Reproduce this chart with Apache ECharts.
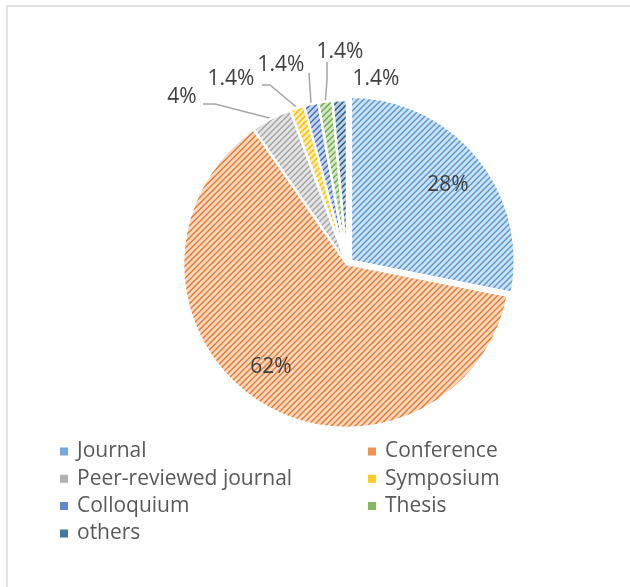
<!DOCTYPE html>
<html><head><meta charset="utf-8">
<script src="https://cdn.jsdelivr.net/npm/echarts@6/dist/echarts.min.js"></script>
<style>html,body{margin:0;padding:0;background:#fff}#c{width:630px;height:587px}</style>
</head><body><div id="c"></div>
<script>
// ---- data ----
const categories = ['Journal', 'Conference', 'Peer-reviewed journal', 'Symposium', 'Colloquium', 'Thesis', 'others'];
const shares = [28, 62, 4, 1.4, 1.4, 1.4, 1.4];
const leftLegend = ['Journal', 'Peer-reviewed journal', 'Colloquium', 'others'];
const rightLegend = ['Conference', 'Symposium', 'Thesis'];
const explodedCategory = 'Journal';

// ---- styles / layout ----
const baseColors = ['#5B9BD5', '#ED7D31', '#A5A5A5', '#FFC000', '#4472C4', '#70AD47', '#255E91'];
const FONT = '"Open Sans", Lato, sans-serif';
const CX = 347, CY = 264, R = 164, EXPLODE = 5;
const labelSpots = {
  'Journal': { x: 448, y: 185 },
  'Conference': { x: 271, y: 367 },
  'Peer-reviewed journal': { x: 182, y: 97, line: [[215, 104], [203, 104]] },
  'Symposium': { x: 231, y: 79, line: [[270, 85], [262, 85]] },
  'Colloquium': { x: 281, y: 65, line: [[310, 88], [309, 73]] },
  'Thesis': { x: 340, y: 52, line: [[327, 80], [327, 62]] },
  'others': { x: 376, y: 79 }
};

function hexRgb(h) { return [1, 3, 5].map(i => parseInt(h.substr(i, 2), 16)); }
function mixWhite(hex, t) {
  const [r, g, b] = hexRgb(hex);
  return `rgb(${Math.round(r + (255 - r) * t)},${Math.round(g + (255 - g) * t)},${Math.round(b + (255 - b) * t)})`;
}
function hatch(hex) {
  const c = document.createElement('canvas');
  const P = 6;
  c.width = c.height = P;
  const g = c.getContext('2d');
  g.fillStyle = mixWhite(hex, 0.7); g.fillRect(0, 0, P, P);
  for (let y = 0; y < P; y++) for (let x = 0; x < P; x++) {
    const k = (x + y) % P;
    if (k === 0) { g.fillStyle = hex; g.fillRect(x, y, 1, 1); }
    else if (k === 1) { g.fillStyle = mixWhite(hex, 0.2); g.fillRect(x, y, 1, 1); }
    else if (k === P - 1) { g.fillStyle = mixWhite(hex, 0.45); g.fillRect(x, y, 1, 1); }
  }
  return { image: c, repeat: 'repeat' };
}

const total = shares.reduce((a, b) => a + b, 0);
function midAngle(i) {
  let cum = 0; for (let k = 0; k < i; k++) cum += shares[k];
  return (cum + shares[i] / 2) / total * 2 * Math.PI;
}
function anchorOf(i) {
  const a = midAngle(i);
  return [CX + R * Math.sin(a), CY - R * Math.cos(a)];
}
const exIdx = categories.indexOf(explodedCategory);
const exA = midAngle(exIdx);
const exCenter = [CX + EXPLODE * Math.sin(exA), CY - EXPLODE * Math.cos(exA)];

const TRANSPARENT = 'rgba(0,0,0,0)';
// exploded slice series: the slice itself plus an invisible remainder
const explodedData = [
  { name: explodedCategory, value: shares[exIdx], itemStyle: { color: hatch(baseColors[exIdx]) } },
  { name: '__rest', value: total - shares[exIdx], itemStyle: { color: TRANSPARENT, borderColor: TRANSPARENT }, label: { show: false } }
];
const mainData = categories.map((name, i) => ({
  name, value: shares[i],
  itemStyle: i === exIdx ? { color: TRANSPARENT, borderColor: TRANSPARENT } : { color: hatch(baseColors[i]) },
  labelLine: { show: !!labelSpots[name].line }
}));

const legendItems = names => names.map(n => ({
  name: n, itemStyle: { color: mixWhite(baseColors[categories.indexOf(n)], 0.15) }
}));

const chart = echarts.init(document.getElementById('c'), null, { renderer: 'canvas' });
const legendBase = {
  orient: 'vertical', top: 436, itemWidth: 10, itemHeight: 10, itemGap: 6.3, icon: 'rect',
  selectedMode: false,
  textStyle: { fontFamily: FONT, fontSize: 21, color: '#595959', lineHeight: 20, padding: [0, 0, 0, 3] }
};
chart.setOption({
  animation: false,
  backgroundColor: '#ffffff',
  graphic: [{
    type: 'polyline', silent: true,
    shape: { points: [[7, 600], [7, 6], [640, 6]] },
    style: { stroke: '#D9D9D9', lineWidth: 1.5, fill: null }
  }],
  legend: [
    Object.assign({}, legendBase, { data: legendItems(leftLegend), left: 53 }),
    Object.assign({}, legendBase, { data: legendItems(rightLegend), left: 361 })
  ],
  series: [{
    type: 'pie',
    center: exCenter,
    radius: R,
    startAngle: 90,
    clockwise: true,
    silent: true,
    itemStyle: { borderColor: '#ffffff', borderWidth: 2.5 },
    label: { show: false },
    labelLine: { show: false },
    emphasis: { disabled: true },
    data: explodedData
  }, {
    type: 'pie',
    center: [CX, CY],
    radius: R,
    startAngle: 90,
    clockwise: true,
    silent: true,
    avoidLabelOverlap: false,
    itemStyle: { borderColor: '#ffffff', borderWidth: 2.5 },
    label: {
      show: true, position: 'outside',
      formatter: p => p.value + '%',
      fontFamily: FONT, fontSize: 21, color: '#404040'
    },
    labelLine: { show: true, length: 10, length2: 10, lineStyle: { color: '#A6A6A6', width: 1.5 } },
    labelLayout: function (p) {
      const name = categories[p.dataIndex];
      const s = labelSpots[name];
      const out = { x: s.x, y: s.y, align: 'center', verticalAlign: 'middle', hideOverlap: false };
      if (s.line) out.labelLinePoints = [anchorOf(p.dataIndex), s.line[0], s.line[1]];
      return out;
    },
    emphasis: { disabled: true },
    data: mainData
  }]
});
</script></body></html>
